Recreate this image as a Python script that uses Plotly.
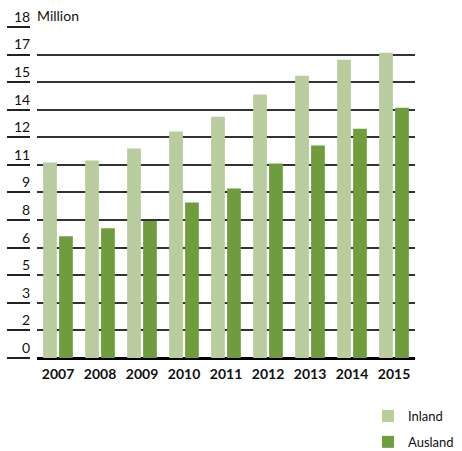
import plotly.graph_objects as go

years = ["2007", "2008", "2009", "2010", "2011", "2012", "2013", "2014", "2015"]
inland = [10.63, 10.74, 11.39, 12.31, 13.12, 14.32, 15.35, 16.21, 16.59]
ausland = [6.62, 7.05, 7.45, 8.46, 9.22, 10.57, 11.55, 12.47, 13.61]
y_tickvals = [0, 1.5, 3, 4.5, 6, 7.5, 9, 10.5, 12, 13.5, 15, 16.5, 18]
y_ticktext = ["0", "2", "3", "5", "6", "8", "9", "11", "12", "14", "15", "17", "18"]
unit_label = "Million"

FONT = "Lato, Roboto, sans-serif"

fig = go.Figure()
fig.add_trace(go.Bar(x=years, y=inland, name="Inland", marker_color="#b8cc9e",
                     marker_line_width=0, legendgroup="a"))
fig.add_trace(go.Bar(x=years, y=ausland, name="Ausland", marker_color="#6f9d3e",
                     marker_line_width=0, legendgroup="b"))

W, H = 462, 451
ml, mr, mt, mb = 7, 47, 26, 93
pw = W - ml - mr
ph = H - mt - mb

fig.update_layout(
    width=W, height=H,
    margin=dict(l=ml, r=mr, t=mt, b=mb, autoexpand=False),
    paper_bgcolor="white", plot_bgcolor="white",
    barmode="group", bargap=0.24, bargroupgap=0.14,
    font=dict(family=FONT, size=14, color="#111"),
    xaxis=dict(domain=[30 / pw, 1], showgrid=False, showline=False, ticks="",
               tickangle=0, automargin=False, ticklabelstandoff=6,
               tickfont=dict(family=FONT, size=14, color="#111", weight="bold")),
    yaxis=dict(range=[0, 18.05], anchor="free", position=23 / pw, automargin=False,
               tickvals=y_tickvals, ticktext=y_ticktext,
               ticks="outside", ticklen=23, tickwidth=1.5, tickcolor="#222",
               ticklabelstandoff=-26, ticklabelshift=-10,
               showgrid=True, gridcolor="#333", gridwidth=1.5,
               zeroline=True, zerolinecolor="#000", zerolinewidth=3,
               showline=False, tickfont=dict(family=FONT, size=14, color="#111")),
    legend=dict(x=(368 - ml) / pw, y=-(401 - mt - ph) / ph, xanchor="left", yanchor="top",
                traceorder="grouped", tracegroupgap=6,
                font=dict(family=FONT, size=13, color="#111"),
                bgcolor="rgba(0,0,0,0)"),
    showlegend=True,
)

fig.add_annotation(text=unit_label, xref="paper", yref="y", x=28 / pw, y=18,
                   xanchor="left", yanchor="bottom", yshift=1, showarrow=False,
                   font=dict(family=FONT, size=14, color="#111"))

fig.write_html("out.html", config={"displayModeBar": False},
               post_script="document.body.style.margin='0';")
